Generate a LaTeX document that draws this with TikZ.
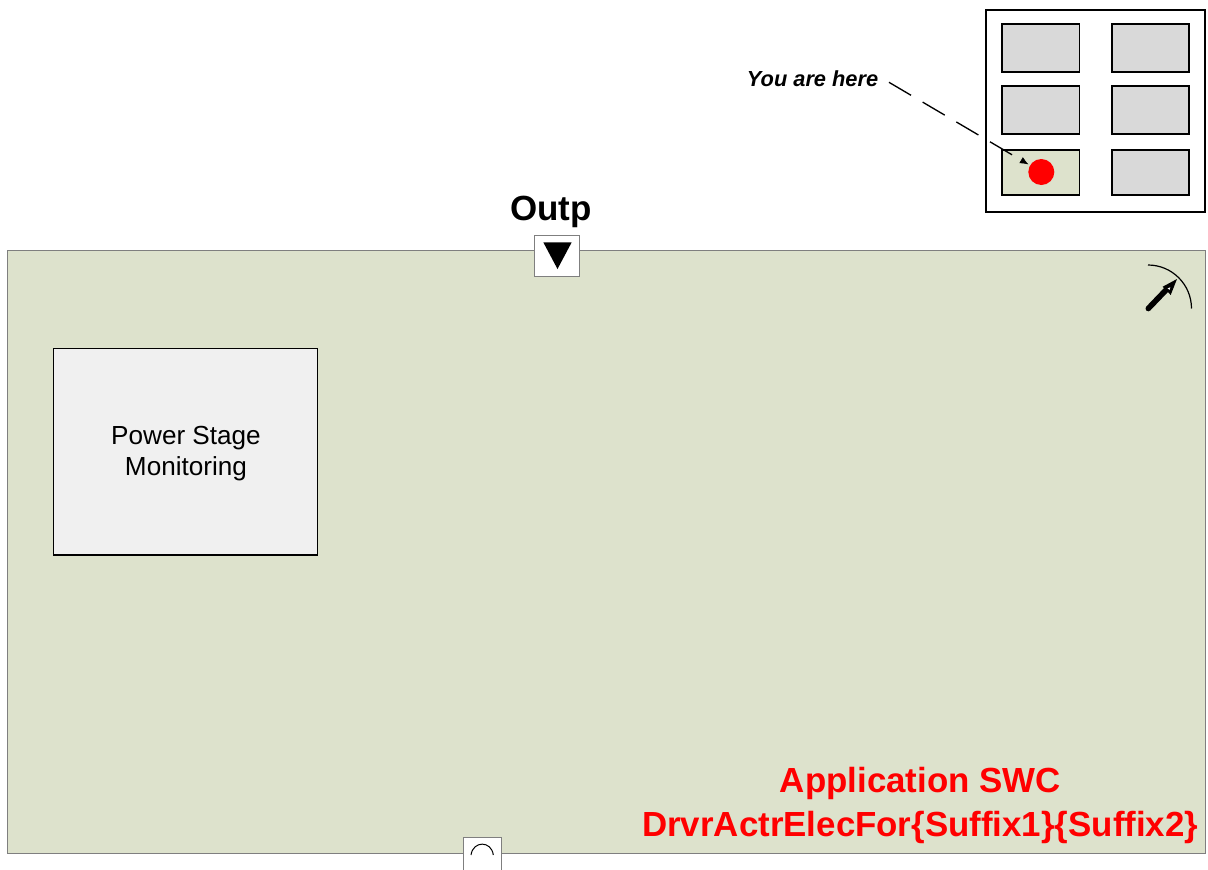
\documentclass[tikz,border=0pt]{standalone}
\usepackage{fontspec}
\setmainfont{Liberation Sans}
\usetikzlibrary{arrows.meta,calc}
\definecolor{swcgreen}{HTML}{DDE2CC}
\definecolor{mapgrey}{HTML}{D9D9D9}
\definecolor{blockgrey}{HTML}{F0F0F0}
\definecolor{edgegrey}{HTML}{7F7F7F}
\tikzset{
  px/.style={x=0.75pt,y=-0.75pt},
  pbox/.style={rectangle,inner sep=0pt,outer sep=0pt,anchor=north west},
  mapcell/.style={pbox,draw=black,line width=1.3pt,fill=mapgrey,minimum width=77.3*0.75pt},
  hereline/.style={draw=black,line width=1pt,dash pattern=on 19.2pt off 10.1pt},
  heretip/.style={draw=black,line width=0.5pt,shorten >=1.2pt,-{Latex[length=6.4pt,width=5.2pt]}},
  portbox/.style={pbox,draw=edgegrey,line width=0.75pt,fill=white},
  glyph/.style={fill=black,draw=none},
}
\begin{document}
\begin{tikzpicture}[px]
\useasboundingbox (0,0) rectangle (1208,869);
\clip (0,0) rectangle (1208,869);
% main SWC
\node[pbox,draw=edgegrey,line width=0.75pt,fill=swcgreen,minimum width=1197.5*0.75pt,minimum height=603*0.75pt] (swc) at (7.5,250) {};
% map
\node[pbox,draw=black,line width=1.4pt,fill=white,minimum width=219.3*0.75pt,minimum height=202*0.75pt] (map) at (985.8,9.6) {};
\node[mapcell,minimum height=48*0.75pt] (c11) at (1002.3,23.7) {};
\node[mapcell,minimum height=48*0.75pt] (c12) at (1111.7,23.7) {};
\node[mapcell,minimum height=48*0.75pt] (c21) at (1002.3,85.7) {};
\node[mapcell,minimum height=48*0.75pt] (c22) at (1111.7,85.7) {};
\node[mapcell,fill=swcgreen,minimum height=45.3*0.75pt] (c31) at (1002.3,149.7) {};
\node[mapcell,minimum height=45.3*0.75pt] (c32) at (1111.7,149.7) {};
\node[circle,fill=red,inner sep=0pt,minimum size=26*0.75pt] (dot) at (1041.3,172) {};
\node[anchor=base west,inner sep=0pt,font=\bfseries\itshape\fontsize{16.35}{19}\selectfont] (here) at (746.7,86) {You are here};
\coordinate (herestart) at (889,82.3);
\coordinate (heretail) at ($(dot)!17.6pt!(herestart)$);
\draw[hereline,shorten >=12pt] (herestart) -- (dot);
\draw[heretip] (heretail) -- (dot);
% output port
\node[portbox,minimum width=44.6*0.75pt,minimum height=41*0.75pt] (outp) at (534.8,235.3) {};
\fill[glyph] (543.3,242.3) -- (571.7,242.3) -- (557.5,269) -- cycle;
\node[anchor=base,inner sep=0pt,font=\bfseries\fontsize{26.2}{30}\selectfont] (outplabel) at (551,220.3) {Outp};
% input port (open at the lower page edge)
\node[portbox,minimum width=38.4*0.75pt,minimum height=40*0.75pt] (inp) at (463.3,837.3) {};
\draw[black,line width=0.75pt] (471,855) .. controls (473,840.5) and (491.5,840.5) .. (493.3,855);
% block
\node[rectangle,draw=black,line width=1pt,fill=blockgrey,minimum width=264*0.75pt,minimum height=206.5*0.75pt,inner sep=0pt,outer sep=0pt] (psm) at (185.5,451.7) {};
\node[inner sep=0pt,align=center,font=\fontsize{19.6}{23.5}\selectfont] (psmtext) at (186,453.7) {Power Stage\\Monitoring};
% runnable symbol
\draw[black,line width=0.9pt] (1148,265) .. controls (1172,265) and (1191.5,284.5) .. (1191.5,308.5);
\draw[black,line width=4.2pt,line cap=round] (1148.3,308.5) -- (1166,290);
\fill[black] (1177,279) -- (1170.7,295) -- (1167,291) -- (1162.7,286.7) -- cycle;
\fill[white] (1170.3,287.3) -- (1169.6,289.8) -- (1167.6,288.4) -- cycle;
% title
\node[anchor=center,inner sep=0pt,align=center,text=red,font=\bfseries\fontsize{26.15}{33}\selectfont] (title) at (920.3,805) {Application SWC\\DrvrActrElecFor\{Suffix1\}\{Suffix2\}};
\end{tikzpicture}
\end{document}
